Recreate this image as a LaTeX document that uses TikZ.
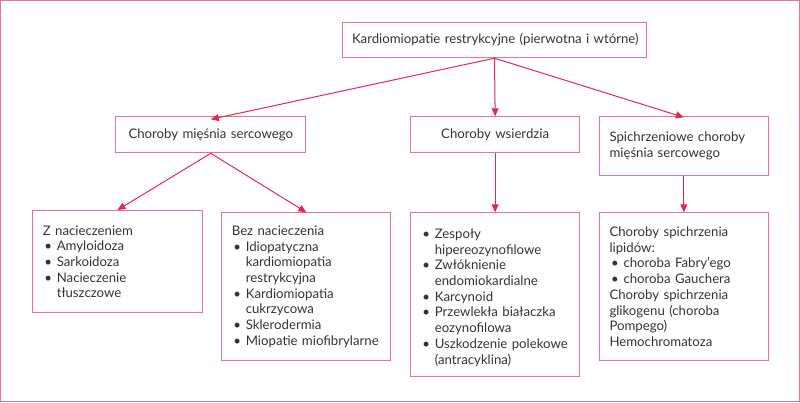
\documentclass[tikz,border=0pt]{standalone}
\usepackage{fontspec}
\setmainfont{Lato}
\usetikzlibrary{arrows.meta,positioning}

\definecolor{ramka}{HTML}{E8738E}
\definecolor{strzalka}{HTML}{DC2A55}
\definecolor{tekst}{HTML}{333333}

% punkt listy z wiszacym wcieciem
\newcommand{\punkt}[1]{\par\noindent\hangindent=14pt\hangafter=1\makebox[14pt][l]{\hspace{1.5pt}\textbullet}#1\par}
\newcommand{\nl}{\hfil\break}

\begin{document}
\begin{tikzpicture}[x=1pt,y=-1pt,>={Triangle[length=8pt,width=7pt]},
    pole/.style={draw=ramka, line width=1pt, text=tekst, inner xsep=10pt, inner ysep=0pt,
      font=\fontsize{13.2}{15.7}\selectfont, align=left, anchor=north west},
    strz/.style={->, draw=strzalka, line width=1pt}]
    \useasboundingbox (0,0) rectangle (800,402);
    \draw[ramka, line width=1.2pt] (0.6,0.6) rectangle (799.4,401.4);

    \node[pole, text width=290pt, inner xsep=7pt, minimum height=35.5pt] (kr) at (342,21.7) {\hspace{2.5pt}Kardiomiopatie restrykcyjne (pierwotna i wtórne)};
    \node[pole, text width=170pt, align=center, minimum height=36pt] (ms) at (115.3,116.3) {Choroby mięśnia sercowego};
    \node[pole, text width=148.7pt, align=center, minimum height=36pt] (ws) at (410.3,116.3) {Choroby wsierdzia};
    \node[pole, text width=148.7pt, minimum height=58.7pt] (sp) at (599,116.3) {Spichrzeniowe choroby\\mięśnia sercowego};

    \node[pole, text width=149.4pt, minimum height=102.3pt] (zn) at (32.3,210) {Z nacieczeniem
      \punkt{Amyloidoza}
      \punkt{Sarkoidoza}
      \punkt{Nacieczenie\nl tłuszczowe}};
    \node[pole, text width=149pt, minimum height=147.7pt] (bn) at (221.3,212.3) {Bez nacieczenia
      \punkt{Idiopatyczna\nl kardiomiopatia\nl restrykcyjna}
      \punkt{Kardiomiopatia\nl cukrzycowa}
      \punkt{Sklerodermia}
      \punkt{Miopatie miofibrylarne}};
    \node[pole, text width=148.7pt, minimum height=163.4pt] (ze) at (410.3,212.3) {%
      \punkt{Zespoły\nl hipereozynofilowe}
      \punkt{Zwłóknienie\nl endomiokardialne}
      \punkt{Karcynoid}
      \punkt{Przewlekła białaczka\nl eozynofilowa}
      \punkt{Uszkodzenie polekowe\nl (antracyklina)}};
    \node[pole, text width=148.7pt, minimum height=147.7pt] (sl) at (599,212.3) {Choroby spichrzenia\\lipidów:
      \punkt{choroba Fabry’ego}
      \punkt{choroba Gauchera}
      Choroby spichrzenia\\glikogenu (choroba\\Pompego)\\Hemochromatoza};

    \draw[strz] (kr.south) -- ([yshift=-3pt]ms.north);
    \draw[strz] (kr.south) -- (ws.north);
    \draw[strz] (kr.south) -- ([yshift=-1pt]sp.north);
    \draw[strz] (ms.south) -- (zn.north);
    \draw[strz] (ms.south) -- (bn.north);
    \draw[strz] (ws.south) -- (ze.north);
    \draw[strz] (sp.south) -- (sl.north);
\end{tikzpicture}
\end{document}
